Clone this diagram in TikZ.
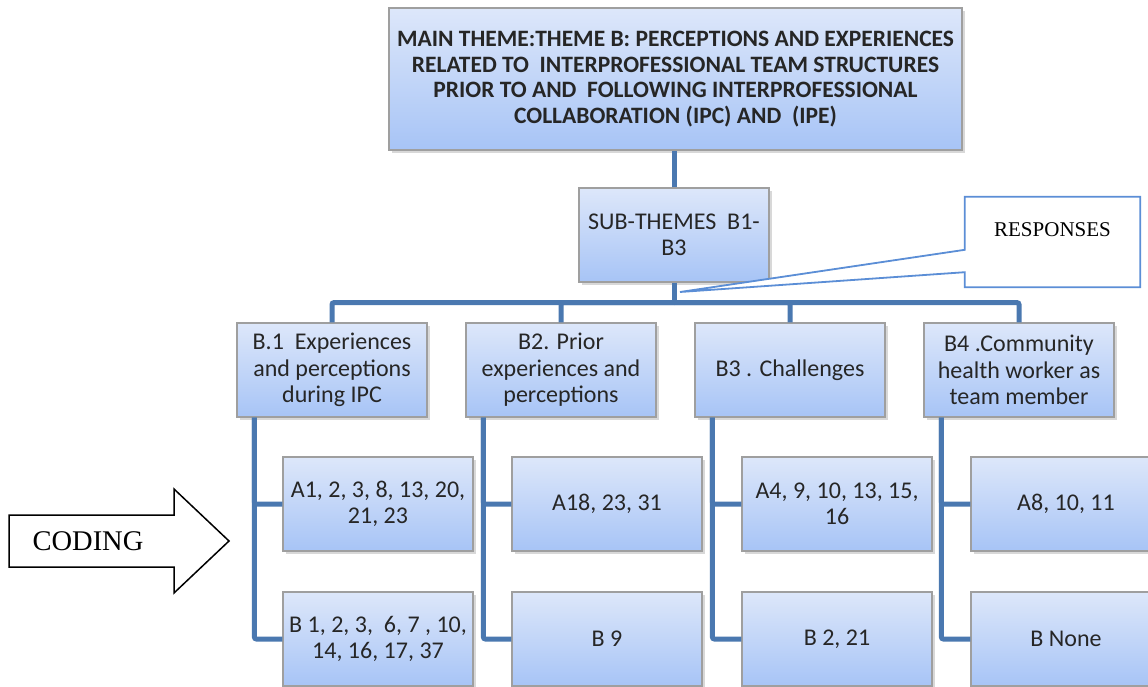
\documentclass[tikz,border=0pt]{standalone}
\usepackage{fontspec}
\setmainfont{Carlito}
\newfontfamily\timesfont{Liberation Serif}
\usetikzlibrary{calc, shadows}

\definecolor{boxtop}{HTML}{DDE7FA}
\definecolor{boxbot}{HTML}{A7C4F6}
\definecolor{linkblue}{HTML}{4A78B0}
\definecolor{callblue}{HTML}{5B8ED6}

\begin{document}
\begin{tikzpicture}[x=1pt, y=-1pt,
  box/.style={draw=gray!75, line width=1.2pt, top color=boxtop, bottom color=boxbot,
    drop shadow={shadow xshift=3pt, shadow yshift=-3pt, opacity=0.3},
    minimum width=190pt, minimum height=94pt, inner sep=2pt, align=center,
    font=\fontsize{24}{26.5}\selectfont, text=black!85},
  link/.style={draw=linkblue, line width=5pt, rounded corners=2pt},
  callout/.style={draw=callblue, line width=1.8pt, fill=white},
  bigarrow/.style={draw=black, line width=1.5pt, fill=white}
]
\clip (0,0) rectangle (1148,687);
\fill[white] (0,0) rectangle (1148,687);

% ----- main theme and sub-themes -----
\node[box, minimum width=573pt, minimum height=142pt, font=\bfseries\fontsize{23.5}{25.5}\selectfont] (main) at (675.5,79)
  {MAIN THEME:THEME B: PERCEPTIONS AND EXPERIENCES\\RELATED TO\ \ INTERPROFESSIONAL TEAM STRUCTURES\\PRIOR TO AND\ \ FOLLOWING INTERPROFESSIONAL\\COLLABORATION (IPC) AND\ \ (IPE)};
\node[box] (sub) at (674,235) {SUB-THEMES\ \ B1-\\B3};

% ----- sub-theme boxes (y = 370) -----
\node[box] (b1) at (332,370) {B.1\ \ Experiences\\and perceptions\\during IPC};
\node[box] (b2) at (561,370) {B2. Prior\\experiences and\\perceptions};
\node[box] (b3) at (790,370) {B3 . Challenges};
\node[box] (b4) at (1019,370) {B4 .Community\\health worker as\\team member};

% ----- coded responses, A row and B row -----
\node[box] (b1a) at (378,504) {A1, 2, 3, 8, 13, 20,\\21, 23};
\node[box] (b1b) at (378,639) {B 1, 2, 3,\ \ 6, 7 , 10,\\14, 16, 17, 37};
\node[box] (b2a) at (607,504) {A18, 23, 31};
\node[box] (b2b) at (607,639) {B 9};
\node[box] (b3a) at (837,504) {A4, 9, 10, 13, 15,\\16};
\node[box] (b3b) at (837,639) {B 2, 21};
\node[box] (b4a) at (1066,504) {A8, 10, 11};
\node[box] (b4b) at (1066,639) {B None};

% ----- tree links -----
\draw[link] (sub.north) -- (sub.north |- main.south);
\coordinate (bar) at ($(sub.south)+(0,20)$);
\draw[link] (sub.south) -- (bar);
\foreach \t in {b1, b2, b3, b4} {
  \draw[link] (bar) -| (\t.north);
  \draw[link] ($(\t.south west)+(18,0)$) |- (\t a.west);
  \draw[link] ($(\t.south west)+(18,0)$) |- (\t b.west);
}

% ----- responses callout -----
\node[minimum width=175pt, minimum height=90pt, inner sep=0pt] (resp) at (1052.5,242) {};
\coordinate (tip) at (680,292);
\draw[callout] (resp.north west) -- (resp.north east) -- (resp.south east) -- (resp.south west)
  -- ($(resp.south west)+(0,-15)$) -- (tip) -- ($(resp.north west)+(0,53)$) -- cycle;
\node[font=\timesfont\fontsize{21}{24}\selectfont] (resptext) at ($(resp.center)+(0,-12)$) {RESPONSES};

% ----- coding arrow -----
\draw[bigarrow] (9,515) -- (174,515) -- (174,489) -- (229,541) -- (174,593) -- (174,567) -- (9,567) -- cycle;
\node[font=\timesfont\fontsize{28.5}{30}\selectfont] (coding) at (88,541) {CODING};

\end{tikzpicture}
\end{document}
